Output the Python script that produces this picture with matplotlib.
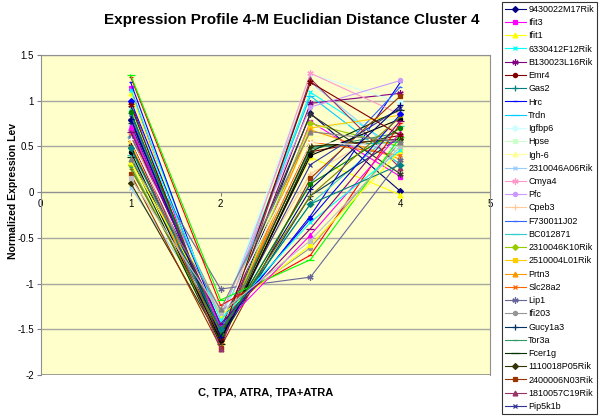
import numpy as np
import matplotlib
matplotlib.use('Agg')
import matplotlib.pyplot as plt

plt.rcParams['font.family'] = ['Liberation Sans', 'DejaVu Sans']

# conditions on the x axis (C, TPA, ATRA, TPA+ATRA)
conditions = [1, 2, 3, 4]

# genes shown in the legend (Excel only listed the first 31)
gene_names = ['9430022M17Rik', 'Ifit3', 'Ifit1', '6330412F12Rik', 'B130023L16Rik',
              'Emr4', 'Gas2', 'Hrc', 'Trdn', 'Igfbp6', 'Hpse', 'Igh-6',
              '2310046A06Rik', 'Cmya4', 'Pfc', 'Cpeb3', 'F730011J02', 'BC012871',
              '2310046K10Rik', '2510004L01Rik', 'Prtn3', 'Slc28a2', 'Lip1', 'Ifi203',
              'Gucy1a3', 'Tor3a', 'Fcer1g', '1110018P05Rik', '2400006N03Rik',
              '1810057C19Rik', 'Pip5k1b']

# normalized expression per condition, one entry per gene (extra genes at the end)
c_vals = [0.79, 1.14, 1.08, 1.12, 0.57, 0.98, 0.87, 1.20, 0.60, 0.93, 0.45, 0.35,
          0.05, 0.65, 0.72, 0.49, 0.85, 0.40, 0.30, 0.55, 0.52, 0.62, 0.60, 0.68,
          0.75, 0.27, 0.38, 0.10, 0.20, 0.70, 0.82,
          0.50, 0.44, 0.58, 1.26, 1.28, 1.00, 0.33, 0.71, 0.92, 0.95, 0.88, 0.80,
          0.25, 0.66, 0.48, 0.15, 0.36]
tpa_vals = [-1.62, -1.70, -1.55, -1.45, -1.60, -1.65, -1.58, -1.50, -1.48, -1.38,
            -1.42, -1.33, -1.40, -1.52, -1.35, -1.45, -1.55, -1.50, -1.60, -1.65,
            -1.63, -1.57, -1.06, -1.30, -1.60, -1.55, -1.66, -1.62, -1.70, -1.72,
            -1.58,
            -1.50, -1.62, -1.40, -1.24, -1.18, -1.46, -1.35, -1.48, -1.40, -1.60,
            -1.55, -1.58, -1.52, -1.44, -1.50, -1.32, -1.28]
atra_vals = [0.86, 0.77, 0.38, 1.09, 0.97, 0.44, 0.49, -0.26, 1.05, 1.29, 0.70, 0.60,
             1.20, 1.30, 0.93, 0.20, 0.10, -0.13, 0.75, 0.70, 0.68, 0.55, -0.93, -0.61,
             -0.04, 0.47, 0.44, 0.50, 0.15, 1.24, 0.30,
             0.85, 0.40, 0.55, -0.69, -0.74, -0.29, -0.58, -0.47, -0.33, 1.20, 0.09,
             0.03, -0.04, -0.40, -0.13, -0.53, 0.66]
combo_vals = [0.01, 0.17, -0.03, 0.46, 1.08, 0.62, 0.55, 1.20, 0.30, 0.98, 0.80, 0.70,
              0.40, 0.85, 1.22, 0.75, 1.15, 0.72, 0.50, 0.84, 0.36, 0.40, 0.35, 0.55,
              0.60, 0.65, 0.90, 0.58, 1.05, 0.26, 0.92,
              0.20, 0.80, 0.49, 0.75, 0.60, 0.85, 0.45, 0.65, 0.46, 0.62, 0.70, 0.95,
              0.82, 0.78, 0.30, 0.50, 0.55]

# Excel 2003 chart palette order
excel_colors = ['#000080', '#FF00FF', '#FFFF00', '#00FFFF', '#800080', '#800000',
                '#008080', '#0000FF', '#00CCFF', '#CCFFFF', '#CCFFCC', '#FFFF99',
                '#99CCFF', '#FF99CC', '#CC99FF', '#FFCC99', '#3366FF', '#33CCCC',
                '#99CC00', '#FFCC00', '#FF9900', '#FF6600', '#666699', '#969696',
                '#003366', '#339966', '#003300', '#333300', '#993300', '#993366',
                '#333399', '#333333', '#000000', '#FFFFFF', '#FF0000', '#00FF00',
                '#0000FF', '#FFFF00', '#FF00FF', '#00FFFF', '#800000', '#008000',
                '#000080', '#808000', '#800080', '#008080', '#C0C0C0', '#808080']
excel_markers = [('D', 3), ('s', 3), ('^', 3.5), ('x', 3.5), ((6, 2, 0), 4.5),
                 ('o', 3), ('+', 4.5), ('_', 3.5), ('_', 6)]

fig = plt.figure(figsize=(6, 4.19), dpi=100)
ax = fig.add_axes([0.068, 0.105, 0.749, 0.764])
ax.set_facecolor('#FFFFCC')

data = np.array([c_vals, tpa_vals, atra_vals, combo_vals]).T
handles = []
for i, row in enumerate(data):
    col = excel_colors[i % len(excel_colors)]
    mk, ms = excel_markers[i % len(excel_markers)]
    label = gene_names[i] if i < len(gene_names) else '_nolegend_'
    ln, = ax.plot(conditions, row, color=col, lw=0.8, marker=mk, ms=ms,
                  mfc=col, mec=col, mew=0.9, label=label, zorder=3)
    handles.append(ln)

ax.set_xlim(0, 5)
ax.set_ylim(-2, 1.5)
ax.set_xticks(np.arange(0, 6, 1))
ax.set_yticks(np.arange(-2, 1.51, 0.5))
ax.set_yticklabels(['-2', '-1.5', '-1', '-0.5', '0', '0.5', '1', '1.5'])
ax.yaxis.grid(True, color='#a8a8a0', lw=1.0, zorder=0)
ax.set_axisbelow(True)

# x axis crosses at y = 0 like the Excel original
ax.spines['bottom'].set_position(('data', 0))
ax.spines['bottom'].set_color('#909090')
for s in ['left', 'top', 'right']:
    ax.spines[s].set_color('#909090')
ax.axhline(-2, color='#909090', lw=1.2, zorder=1)
ax.tick_params(axis='both', labelsize=7, length=3, pad=2, color='#808080', width=0.8)

fig.text(0.487, 0.952, 'Expression Profile 4-M Euclidian Distance Cluster 4',
         ha='center', va='center', fontsize=11, fontweight='bold')
fig.text(0.443, 0.063, 'C, TPA, ATRA, TPA+ATRA', ha='center', va='center',
         fontsize=8, fontweight='bold')
fig.text(0.021, 0.545, 'Normalized Expression Lev', ha='center', va='center',
         rotation=90, fontsize=7.5, fontweight='bold')

leg = fig.legend(handles[:len(gene_names)], gene_names, loc='upper left',
                 bbox_to_anchor=(0.836, 0.996), fontsize=6.5, frameon=True,
                 fancybox=False, edgecolor='black', borderaxespad=0,
                 labelspacing=0.47, handlelength=2.3, handletextpad=0.3,
                 borderpad=0.35)
leg.get_frame().set_linewidth(0.8)

fig.savefig('out.png', dpi=100)
